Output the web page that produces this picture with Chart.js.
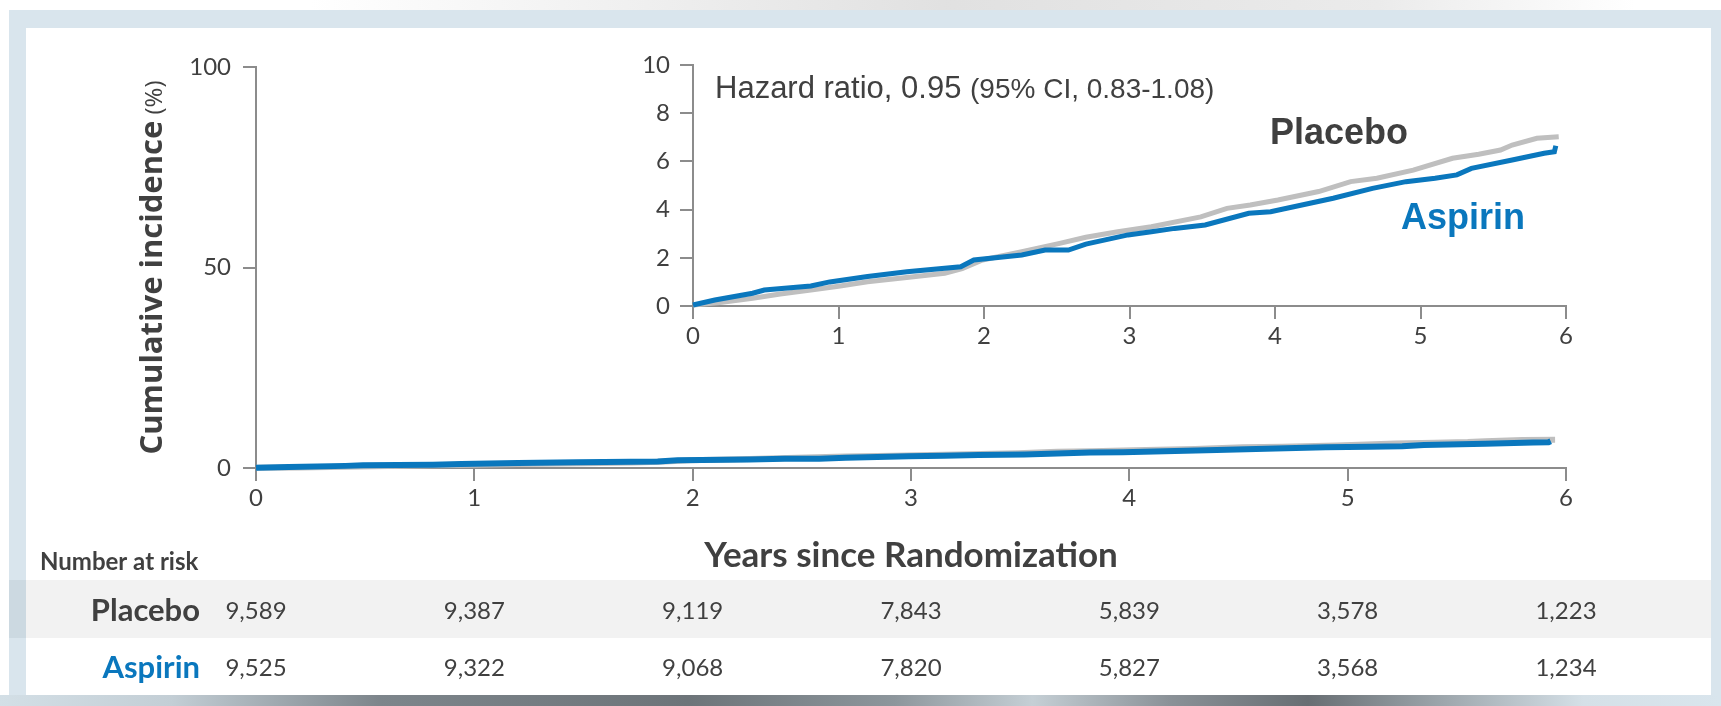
<!DOCTYPE html>
<html>
<head>
<meta charset="utf-8">
<title>Cumulative incidence</title>
<script src="https://cdn.jsdelivr.net/npm/chart.js@4.4.1/dist/chart.umd.min.js"></script>
<style>
  html, body { margin: 0; padding: 0; }
  body { width: 1721px; height: 706px; overflow: hidden; background: #fff; position: relative; }
  .deco { position: absolute; }
  #topShade { left: 0; top: 0; width: 1721px; height: 10px;
    background: linear-gradient(90deg, rgba(255,255,255,0) 18%, rgba(200,200,200,0.55) 55%, rgba(215,215,215,0.5) 80%, rgba(255,255,255,0) 95%); }
  #topBand { left: 9px; top: 10px; width: 1712px; height: 18px; background: #d9e5ed; }
  #leftBand { left: 9px; top: 28px; width: 17px; height: 667px; background: #d9e5ed; }
  #rightBand { left: 1711px; top: 28px; width: 10px; height: 667px; background: #d9e5ed; }
  #riskRow { left: 26px; top: 580px; width: 1685px; height: 58px; background: #f2f2f2; }
  #riskRowEdge { left: 9px; top: 580px; width: 17px; height: 58px; background: #ccd9e1; }
  #bottomBar { left: 0; top: 695px; width: 1721px; height: 11px;
    background: linear-gradient(90deg, #d3dfe6 0%, #c3ced5 10%, #7d858b 22%, #6d7479 40%, #8d969c 52%, #c5cfd5 60%, #8a9197 68%, #686e73 76%, #9ea7ad 84%, #d5e0e7 92%, #d9e5ed 100%); }
  canvas { position: absolute; }
  #mainChart { left: 0; top: 0; }
  #insetChart { left: 600px; top: 40px; }
</style>
</head>
<body>
<div class="deco" id="topShade"></div>
<div class="deco" id="topBand"></div>
<div class="deco" id="leftBand"></div>
<div class="deco" id="rightBand"></div>
<div class="deco" id="riskRow"></div>
<div class="deco" id="riskRowEdge"></div>
<div class="deco" id="bottomBar"></div>
<canvas id="mainChart" width="1721" height="706"></canvas>
<canvas id="insetChart" width="1000" height="320"></canvas>
<script>
// Cumulative incidence curves (%), read along years since randomization
const placeboYears = [0, 0.2, 0.41, 0.6, 0.81, 1.0, 1.2, 1.5, 1.73, 1.85, 1.99, 2.26, 2.52, 2.7, 2.92, 3.15, 3.49, 3.67, 3.83, 4.02, 4.3, 4.52, 4.7, 4.95, 5.22, 5.4, 5.55, 5.63, 5.8, 5.95];
const placeboPct   = [0.04, 0.15, 0.32, 0.5, 0.66, 0.82, 1.01, 1.2, 1.36, 1.55, 1.91, 2.25, 2.6, 2.85, 3.08, 3.29, 3.7, 4.05, 4.19, 4.4, 4.75, 5.16, 5.3, 5.64, 6.13, 6.3, 6.47, 6.68, 6.96, 7.02];

const aspirinYears = [0, 0.15, 0.41, 0.49, 0.81, 0.94, 1.2, 1.47, 1.84, 1.93, 2.26, 2.42, 2.58, 2.7, 2.99, 3.15, 3.31, 3.52, 3.82, 3.97, 4.4, 4.67, 4.9, 5.1, 5.25, 5.35, 5.63, 5.85, 5.92, 5.93];
const aspirinPct   = [0.04, 0.25, 0.53, 0.66, 0.83, 1.0, 1.22, 1.42, 1.63, 1.91, 2.12, 2.32, 2.32, 2.57, 2.95, 3.08, 3.22, 3.36, 3.85, 3.91, 4.47, 4.88, 5.16, 5.3, 5.44, 5.71, 6.06, 6.34, 6.4, 6.65];

// Number at risk table
const riskYears   = [0, 1, 2, 3, 4, 5, 6];
const placeboRisk = [9589, 9387, 9119, 7843, 5839, 3578, 1223];
const aspirinRisk = [9525, 9322, 9068, 7820, 5827, 3568, 1234];

const hazardText = 'Hazard ratio, 0.95';
const ciText = '(95% CI, 0.83-1.08)';

const blue = '#0a77bd';
const grey = '#bfbfbf';
const ink = '#404040';
const axisGrey = '#8c8c8c';

const toPoints = (xs, ys) => xs.map((x, i) => ({ x: x, y: ys[i] }));

function curveDatasets(width) {
    return [
        {
            label: 'Aspirin',
            data: toPoints(aspirinYears, aspirinPct),
            borderColor: blue,
            borderWidth: width,
            pointRadius: 0,
            clip: false,
        },
        {
            label: 'Placebo',
            data: toPoints(placeboYears, placeboPct),
            borderColor: grey,
            borderWidth: width,
            pointRadius: 0,
            clip: false,
        },
    ];
}

function axisStyle(fontSize, pad, step) {
    return {
        grid: { drawOnChartArea: false, drawTicks: true, tickLength: 13, color: axisGrey, lineWidth: 2 },
        border: { display: true, color: axisGrey, width: 2 },
        ticks: { color: ink, font: { family: 'Lato', size: fontSize }, padding: pad, stepSize: step },
    };
}

// Titles and the number-at-risk rows under the main chart
const mainDecor = {
    id: 'mainDecor',
    afterDraw(chart) {
        const ctx = chart.ctx;
        const area = chart.chartArea;
        const xs = chart.scales.x;
        ctx.save();

        // y title, bold words plus a lighter unit
        const boldFont = 'bold 31px "Open Sans"';
        const unitFont = '24px "Open Sans"';
        ctx.font = boldFont;
        const w1 = ctx.measureText('Cumulative incidence').width;
        ctx.font = unitFont;
        const w2 = ctx.measureText(' (%)').width;
        ctx.translate(162, (area.top + area.bottom) / 2);
        ctx.rotate(-Math.PI / 2);
        ctx.fillStyle = ink;
        ctx.textBaseline = 'alphabetic';
        ctx.textAlign = 'left';
        ctx.font = boldFont;
        ctx.fillText('Cumulative incidence', -(w1 + w2) / 2, 0);
        ctx.font = unitFont;
        ctx.fillText(' (%)', -(w1 + w2) / 2 + w1, 0);
        ctx.restore();

        ctx.save();
        ctx.fillStyle = ink;
        ctx.textBaseline = 'middle';
        ctx.textAlign = 'center';
        ctx.font = 'bold 35px Lato';
        // ZWNJ keeps "ti" from turning into a ligature
        ctx.fillText('Years since Randomiza\u200Ction', (area.left + area.right) / 2, 556);

        ctx.textAlign = 'left';
        ctx.font = 'bold 24px Lato';
        ctx.fillText('Number at risk', 40, 562);

        const rows = [
            { name: 'Placebo', color: ink, values: placeboRisk, y: 611 },
            { name: 'Aspirin', color: blue, values: aspirinRisk, y: 668 },
        ];
        rows.forEach(row => {
            ctx.textAlign = 'right';
            ctx.font = 'bold 31px Lato';
            ctx.fillStyle = row.color;
            ctx.fillText(row.name, 200, row.y);
            ctx.textAlign = 'center';
            ctx.font = '24px Lato';
            ctx.fillStyle = ink;
            riskYears.forEach((yr, i) => {
                ctx.fillText(row.values[i].toLocaleString('en-US'), xs.getPixelForValue(yr), row.y);
            });
        });
        ctx.restore();
    }
};

new Chart(document.getElementById('mainChart'), {
    type: 'line',
    data: { datasets: curveDatasets(6) },
    options: {
        responsive: false,
        animation: false,
        devicePixelRatio: 1,
        layout: { padding: { left: 0, top: 67, right: 155, bottom: 198 } },
        plugins: { legend: { display: false }, tooltip: { enabled: false } },
        scales: {
            x: Object.assign(axisStyle(24, 3, 1), {
                type: 'linear', min: 0, max: 6,
                afterFit: s => { s.height = 40; },
            }),
            y: Object.assign(axisStyle(24, 12, 50), {
                min: 0, max: 100,
                afterFit: s => { s.width = 256; },
            }),
        },
    },
    plugins: [mainDecor],
});

// Hazard ratio note and curve labels on the zoomed view
const insetDecor = {
    id: 'insetDecor',
    afterDraw(chart) {
        const ctx = chart.ctx;
        const area = chart.chartArea;
        ctx.save();
        ctx.fillStyle = ink;
        ctx.textBaseline = 'alphabetic';
        ctx.textAlign = 'left';
        ctx.font = '31px "Liberation Sans", Arial';
        const hx = area.left + 22;
        ctx.fillText(hazardText, hx, 58);
        const hw = ctx.measureText(hazardText + ' ').width;
        ctx.font = '28px "Liberation Sans", Arial';
        ctx.fillText(ciText, hx + hw, 58);

        ctx.textBaseline = 'middle';
        ctx.font = 'bold 36px "Liberation Sans", Arial';
        ctx.fillStyle = '#3f3f3f';
        ctx.fillText('Placebo', 670, 94);
        ctx.fillStyle = blue;
        ctx.fillText('Aspirin', 801, 179);
        ctx.restore();
    }
};

new Chart(document.getElementById('insetChart'), {
    type: 'line',
    data: { datasets: curveDatasets(5) },
    options: {
        responsive: false,
        animation: false,
        devicePixelRatio: 1,
        layout: { padding: { left: 0, top: 25, right: 34, bottom: 14 } },
        plugins: { legend: { display: false }, tooltip: { enabled: false } },
        scales: {
            x: Object.assign(axisStyle(24, 3, 1), {
                type: 'linear', min: 0, max: 6,
                afterFit: s => { s.height = 40; },
            }),
            y: Object.assign(axisStyle(24, 10, 2), {
                min: 0, max: 10,
                afterFit: s => { s.width = 93; },
            }),
        },
    },
    plugins: [insetDecor],
});
</script>
</body>
</html>
